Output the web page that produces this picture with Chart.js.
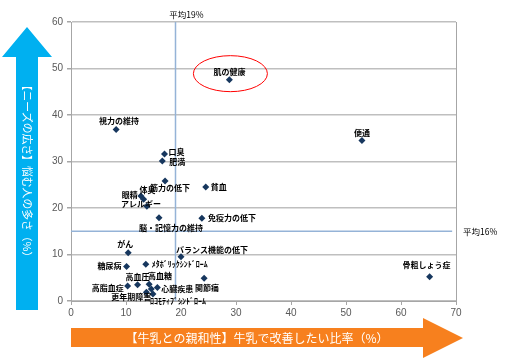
<!DOCTYPE html>
<html>
<head>
<meta charset="utf-8">
<script src="https://cdn.jsdelivr.net/npm/chart.js@4.4.1/dist/chart.umd.min.js"></script>
<style>
    html, body { margin: 0; padding: 0; background: #fff; }
    #wrap { width: 509px; height: 359px; }
</style>
</head>
<body>
<div id="wrap"><canvas id="cv" width="509" height="359"></canvas></div>
<script>
// items and their values
var names = ["肌の健康", "便通", "骨粗しょう症", "視力の維持", "口臭", "肥満", "筋力の低下", "貧血",
    "眼精", "体臭", "アレルギー", "脳・記憶力の維持", "免疫力の低下", "がん", "バランス機能の低下",
    "糖尿病", "ﾒﾀﾎﾞﾘｯｸｼﾝﾄﾞﾛｰﾑ", "高血圧", "高血糖", "心臓疾患", "関節痛", "高脂血症", "更年期障害",
    "ﾛｺﾓﾃｨﾌﾞｼﾝﾄﾞﾛｰﾑ", ""];
var milkRatio = [28.8, 52.9, 65.2, 8.2, 17.0, 16.6, 17.1, 24.5,
    12.7, 13.2, 13.8, 16.0, 23.8, 10.4, 20.0,
    10.1, 13.6, 12.1, 14.2, 15.7, 24.2, 10.3, 13.7,
    14.9, 14.6];
var needs = [47.6, 34.5, 5.2, 36.9, 31.6, 30.1, 25.8, 24.5,
    22.6, 21.9, 20.4, 17.9, 17.8, 10.4, 9.5,
    7.4, 7.9, 3.5, 3.6, 2.9, 4.9, 3.2, 1.9,
    1.5, 2.6];
var avgX = 19;   // 平均19%
var avgY = 15;   // 平均16% line
var xTicks = [0, 10, 20, 30, 40, 50, 60, 70];

// label placement [dx, dy, align]
var labelPlace = [[0, -8, "center"], [0, -8, "center"], [-3, -12, "center"], [3, -8, "center"],
    [4, -2, "left"], [7, 1, "left"], [5, 7, "center"], [5, 0, "left"],
    [-3, -1, "right"], [-4, -9, "left"], [-6, -2, "center"], [12, 10, "center"],
    [6, 0, "left"], [-3, -9, "center"], [-5, -7, "left"],
    [-5, -1, "right"], [6, 0, "left"], [0, -8, "center"], [-1, -8, "left"],
    [4, 1, "left"], [3, 10, "center"], [-4, 2, "right"], [-15, 5, "center"],
    [-3, 7, "left"], [0, 0, "none"]];

var points = [];
for (var i = 0; i < names.length; i++) {
    points.push({x: milkRatio[i], y: needs[i]});
}

var decor = {
    id: "decor",
    afterDatasetsDraw: function(chart) {
        var ctx = chart.ctx;
        var xs = chart.scales.x, ys = chart.scales.y;
        var a = chart.chartArea;
        ctx.save();
        // right border
        ctx.strokeStyle = "#a6a6a6";
        ctx.lineWidth = 1;
        ctx.beginPath();
        ctx.moveTo(a.right + 0.5, a.top);
        ctx.lineTo(a.right + 0.5, a.bottom);
        ctx.stroke();

        // point labels
        ctx.fillStyle = "#000";
        ctx.textBaseline = "middle";
        for (var i = 0; i < names.length; i++) {
            var p = labelPlace[i];
            if (p[2] == "none") continue;
            var px = xs.getPixelForValue(milkRatio[i]);
            var py = ys.getPixelForValue(needs[i]);
            ctx.font = 'bold 8px "Noto Sans CJK JP"';
            ctx.textAlign = p[2];
            ctx.fillText(names[i], px + p[0], py + p[1]);
        }

        // average labels
        ctx.font = '8.5px "Noto Sans CJK JP"';
        ctx.textAlign = "center";
        ctx.fillText("平均19%", xs.getPixelForValue(avgX) + 11, a.top - 7);
        ctx.textAlign = "left";
        ctx.fillText("平均16%", a.right + 7, ys.getPixelForValue(avgY) + 1);

        // red ellipse round 肌の健康
        ctx.strokeStyle = "#ff0000";
        ctx.lineWidth = 1;
        ctx.beginPath();
        ctx.ellipse(xs.getPixelForValue(milkRatio[0]) + 1, ys.getPixelForValue(needs[0]) - 6, 37, 18, 0, 0, Math.PI * 2);
        ctx.stroke();

        // blue arrow (up)
        ctx.fillStyle = "#00b0f0";
        ctx.beginPath();
        ctx.moveTo(16, 310);
        ctx.lineTo(16, 57);
        ctx.lineTo(2, 57);
        ctx.lineTo(27, 27);
        ctx.lineTo(52, 57);
        ctx.lineTo(38, 57);
        ctx.lineTo(38, 310);
        ctx.closePath();
        ctx.fill();
        ctx.save();
        ctx.translate(27, 171);
        ctx.rotate(Math.PI / 2);
        ctx.fillStyle = "#fff";
        ctx.font = '10.8px "Noto Sans CJK JP"';
        ctx.textAlign = "center";
        ctx.fillText("【ニーズの広さ】悩む人の多さ（%）", 0, 0);
        ctx.restore();

        // orange arrow (right)
        ctx.fillStyle = "#f7801e";
        ctx.beginPath();
        ctx.moveTo(71, 328);
        ctx.lineTo(423, 328);
        ctx.lineTo(423, 318);
        ctx.lineTo(463, 338);
        ctx.lineTo(423, 358);
        ctx.lineTo(423, 347);
        ctx.lineTo(71, 347);
        ctx.closePath();
        ctx.fill();
        ctx.fillStyle = "#fff";
        ctx.font = '12px "Noto Sans CJK JP"';
        ctx.textAlign = "center";
        ctx.fillText("【牛乳との親和性】牛乳で改善したい比率（%）", 257, 338);
        ctx.restore();
    }
};

var chart = new Chart(document.getElementById("cv"), {
    type: "scatter",
    data: {
        datasets: [{
            data: points,
            pointStyle: "rectRot",
            pointRadius: 3.5,
            pointHoverRadius: 3.5,
            backgroundColor: "#17375e",
            borderColor: "#17375e",
            borderWidth: 0,
            order: 0
        }, {
            data: [{x: avgX, y: 0}, {x: avgX, y: 60}],
            showLine: true,
            pointRadius: 0,
            borderColor: "#95b3d7",
            borderWidth: 1.5,
            order: 1
        }, {
            data: [{x: 0, y: avgY}, {x: 69.3, y: avgY}],
            showLine: true,
            pointRadius: 0,
            borderColor: "#95b3d7",
            borderWidth: 1.5,
            order: 1
        }]
    },
    options: {
        responsive: false,
        animation: false,
        layout: { padding: { left: 0, right: 53, top: 22, bottom: 0 } },
        plugins: { legend: { display: false }, tooltip: { enabled: false } },
        scales: {
            x: {
                type: "linear",
                min: 0, max: 70,
                afterBuildTicks: function(s) { s.ticks = xTicks.map(function(v) { return {value: v}; }); },
                afterFit: function(s) { s.height = 58; },
                grid: { drawOnChartArea: false, tickLength: 4, color: "#a6a6a6" },
                border: { color: "#a6a6a6" },
                ticks: { color: "#595959", font: { size: 10, family: "Liberation Sans" }, padding: 2, maxRotation: 0 }
            },
            y: {
                min: 0, max: 60,
                afterFit: function(s) { s.width = 71; },
                grid: { color: "#bfbfbf", lineWidth: 1.5, tickLength: 4, tickColor: "#a6a6a6" },
                border: { color: "#a6a6a6" },
                ticks: { stepSize: 10, color: "#595959", font: { size: 10, family: "Liberation Sans" }, padding: 4 }
            }
        }
    },
    plugins: [decor]
});
</script>
</body>
</html>
